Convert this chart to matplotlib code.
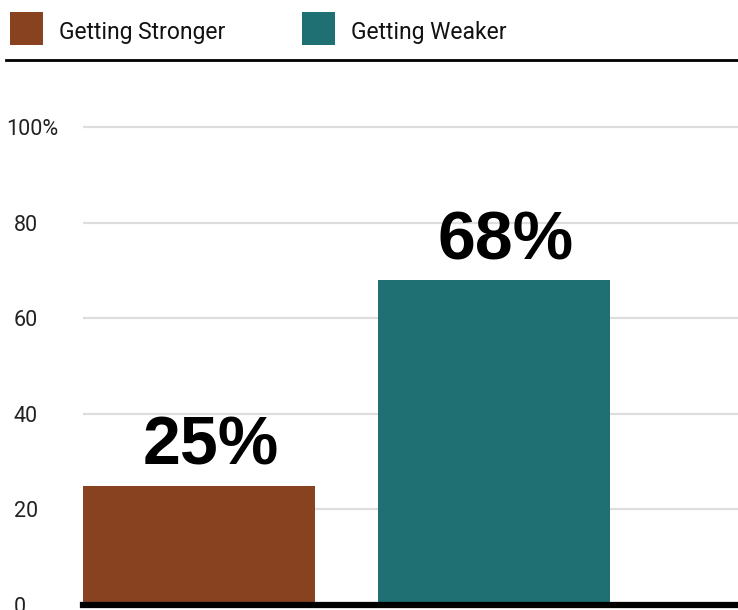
import matplotlib
matplotlib.use("Agg")
import matplotlib.pyplot as plt
from matplotlib.patches import Rectangle
from matplotlib.lines import Line2D

# share of respondents
series = ["Getting Stronger", "Getting Weaker"]
values = [25, 68]
colors = ["#88421F", "#1E7073"]
yticks = [0, 20, 40, 60, 80, 100]
ytick_labels = ["0", "20", "40", "60", "80", "100%"]

plt.rcParams["font.family"] = ["Roboto", "DejaVu Sans"]

fig = plt.figure(figsize=(7.38, 6.10), dpi=100)
W, H = 738, 610

# plot area: 0 sits at y=605px, 20 units every ~95.6px
ax = fig.add_axes([83 / W, 5 / H, 1 - 83 / W, 110 * 4.78 / H])
x = range(len(values))
bars = ax.bar(x, values, width=0.788, color=colors, zorder=2)
ax.set_xlim(-0.394, 1.830)
ax.set_ylim(0, 110)

ax.set_yticks(yticks)
ax.set_yticklabels(ytick_labels, fontsize=15.5, color="#222222")
for lbl in ax.get_yticklabels():
    lbl.set_horizontalalignment("left")
ax.get_yticklabels()[-1].set_x(-0.012)
ax.tick_params(axis="y", length=0, pad=50)
ax.set_xticks([])
ax.grid(axis="y", color="#dddddd", linewidth=1.6, zorder=0)
for s in ["top", "right", "left"]:
    ax.spines[s].set_visible(False)
ax.spines["bottom"].set_linewidth(4.5)
ax.spines["bottom"].set_color("black")
ax.spines["bottom"].set_zorder(3)

for b, v in zip(bars, values):
    ax.annotate(f"{v}%", (b.get_x() + b.get_width() / 2 + 0.04, v),
                xytext=(0, 15), textcoords="offset points",
                ha="center", va="baseline", fontsize=49,
                fontweight="bold", family=["Liberation Sans", "DejaVu Sans"],
                zorder=4)

# legend row across the top
legend_x = [10, 302]
for lx, name, c in zip(legend_x, series, colors):
    fig.patches.append(Rectangle((lx / W, 1 - 45 / H), 33 / W, 33 / H,
                                 transform=fig.transFigure, facecolor=c,
                                 edgecolor="none"))
    fig.text((lx + 49) / W, 1 - 33 / H, name, fontsize=16.5,
             va="center", ha="left", color="#111111")
fig.lines.append(Line2D([6 / W, 1], [1 - 60 / H, 1 - 60 / H],
                        transform=fig.transFigure, color="black", linewidth=2))

fig.savefig("out.png", dpi=100)
